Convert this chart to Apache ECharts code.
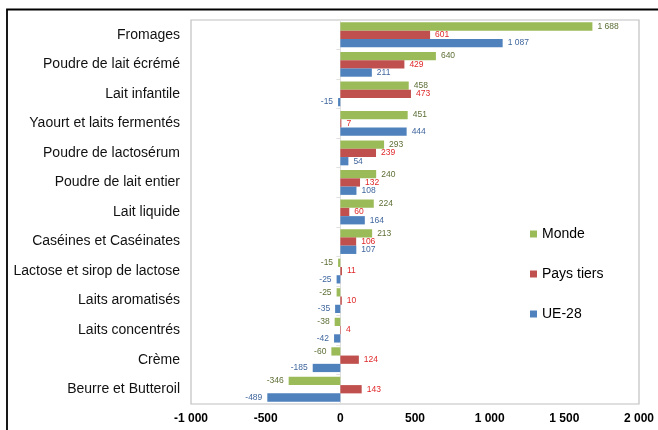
<!DOCTYPE html>
<html>
<head>
<meta charset="utf-8">
<script src="https://cdn.jsdelivr.net/npm/echarts@6/dist/echarts.min.js"></script>
<style>
html,body{margin:0;padding:0;background:#fff;}
#chart{width:658px;height:430px;}
</style>
</head>
<body>
<div id="chart"></div>
<script>
const categories = [
  "Fromages",
  "Poudre de lait écrémé",
  "Lait infantile",
  "Yaourt et laits fermentés",
  "Poudre de lactosérum",
  "Poudre de lait entier",
  "Lait liquide",
  "Caséines et Caséinates",
  "Lactose et sirop de lactose",
  "Laits aromatisés",
  "Laits concentrés",
  "Crème",
  "Beurre et Butteroil"
];
const monde      = [1688, 640, 458, 451, 293, 240, 224, 213, -15, -25, -38, -60, -346];
const paysTiers  = [601, 429, 473, 7, 239, 132, 60, 106, 11, 10, 4, 124, 143];
const ue28       = [1087, 211, -15, 444, 54, 108, 164, 107, -25, -35, -42, -185, -489];
const xTicks = { min: -1000, max: 2000, interval: 500 };

function fmt(v){
  const s = Math.abs(v).toString().replace(/\B(?=(\d{3})+(?!\d))/g, ' ');
  return (v < 0 ? '-' : '') + s;
}
function items(arr){
  return arr.map(v => ({ value: v, label: { position: v < 0 ? 'left' : 'right' } }));
}
function makeSeries(name, arr, color, labelColor){
  return {
    name: name,
    type: 'bar',
    yAxisIndex: 0,
    data: items(arr),
    barGap: '0%',
    barCategoryGap: '16%',
    itemStyle: { color: color },
    label: {
      show: true,
      distance: 5,
      fontSize: 8.5,
      fontFamily: 'Liberation Sans, Arial, sans-serif',
      color: labelColor,
      formatter: p => fmt(p.value)
    },
    emphasis: { disabled: true },
    animation: false
  };
}

const chart = echarts.init(document.getElementById('chart'), null, { renderer: 'canvas' });
chart.setOption({
  animation: false,
  grid: { left: 191, right: 19, top: 20, bottom: 26, show: true, borderColor: '#C0C0C0', borderWidth: 1.2, backgroundColor: 'transparent' },
  graphic: [{
    type: 'rect',
    shape: { x: 7, y: 9.5, width: 700, height: 500 },
    style: { fill: 'none', stroke: '#000', lineWidth: 1.8 },
    silent: true
  }],
  legend: {
    orient: 'vertical',
    left: 525,
    top: 222,
    itemWidth: 7,
    itemHeight: 7,
    itemGap: 26,
    icon: 'rect',
    textStyle: { fontSize: 14, color: '#000', fontFamily: 'Liberation Sans, Arial, sans-serif' },
    data: ['Monde', 'Pays tiers', 'UE-28']
  },
  xAxis: {
    type: 'value',
    min: xTicks.min,
    max: xTicks.max,
    interval: xTicks.interval,
    splitLine: { show: false },
    axisLine: { show: false },
    axisTick: { show: false },
    axisLabel: {
      fontSize: 12,
      fontWeight: 'bold',
      color: '#000',
      margin: 9,
      fontFamily: 'Liberation Sans, Arial, sans-serif',
      formatter: v => fmt(v)
    }
  },
  yAxis: [{
    type: 'category',
    data: categories,
    inverse: true,
    axisLine: { show: false, onZero: false },
    axisTick: { show: false },
    axisLabel: {
      fontSize: 14,
      color: '#111',
      margin: 11,
      fontFamily: 'Liberation Sans, Arial, sans-serif'
    }
  }, {
    type: 'category',
    data: categories,
    inverse: true,
    position: 'left',
    axisLine: { show: true, onZero: true, lineStyle: { color: '#E0E0E0', width: 1 } },
    axisTick: { show: true, length: 4, lineStyle: { color: '#E0E0E0' } },
    axisLabel: { show: false }
  }],
  series: [
    makeSeries('Monde', monde, '#9BBB59', '#5C6E34'),
    makeSeries('Pays tiers', paysTiers, '#C0504D', '#E0282A'),
    makeSeries('UE-28', ue28, '#4F81BD', '#41679E')
  ]
});
</script>
</body>
</html>
